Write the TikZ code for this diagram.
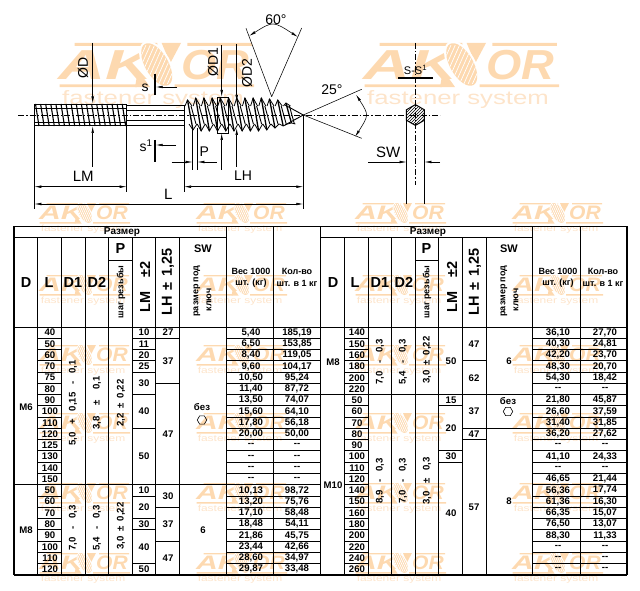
\documentclass[tikz,border=0pt]{standalone}
\usepackage{fontspec}
\setmainfont{Liberation Sans}
\usepackage{xcolor}
\usepackage{graphicx}
\usetikzlibrary{shapes.geometric, arrows.meta, patterns}
\definecolor{wmpeach}{RGB}{253,217,176}
\definecolor{wmlight}{RGB}{253,228,202}
\newcommand{\nodata}{-{}-}
\newcommand{\px}[1]{\fontsize{#1}{#1}\selectfont}

\tikzset{
    pics/aksor/.style={code={
        \fill[wmpeach] (10.5,0) rectangle (49,1.3) (63,0) rectangle (93,1.3);
        \fill[wmpeach] (3.5,19.2) rectangle (39.5,20.5) (57,19.2) rectangle (94,20.5);
        \node[wmword] (ak) at (25,10.2) {\scalebox{1.55}[1]{AK}};
        \node[wmword] (or) at (76,10.2) {\scalebox{1.08}[1]{OR}};
        \fill[wmpeach] (51,0) -- (60,0) -- (55,9.4) -- cycle;
        \fill[wmpeach] (38.6,20.5) -- (45.6,20.5) -- (40,12.6) -- cycle;
        \begin{scope}
            \fill[white, rotate around={30:(48.7,10)}] (48.7,10) ellipse [x radius=6.4, y radius=12];
            \fill[wmpeach, rotate around={30:(48.7,10)}] (48.7,10) ellipse [x radius=5.4, y radius=11];
            \clip[rotate around={30:(48.7,10)}] (48.7,10) ellipse [x radius=5.4, y radius=11];
            \foreach \t in {-9,-7,...,9}
                \draw[white, line width=0.7pt] (48.7+\t-4,19) -- (48.7+\t+4,1);
        \end{scope}
        \node[wmtail] (tail) at (47,26.5) {\scalebox{1.33}[1]{fastener system}};
    }},
}

\begin{document}
\begin{tikzpicture}[
    x=1pt, y=-1pt,
    declare function={rowy(\k)=327+11.27*\k;},
    wmword/.style={inner sep=0, transform shape, text=wmpeach, font=\px{19.5}\bfseries\itshape},
    wmtail/.style={inner sep=0, transform shape, text=wmlight, font=\px{9}},
    dim/.style={draw=black, line width=0.55pt},
    arrowline/.style={dim, -{Latex[length=7pt,width=2.6pt]}},
    twoway/.style={dim, {Latex[length=7pt,width=2.6pt]}-{Latex[length=7pt,width=2.6pt]}},
    axis/.style={draw=black, line width=0.7pt, dash pattern=on 6pt off 2pt on 1.5pt off 2pt},
    cutbar/.style={draw=black, line width=1.1pt},
    body/.style={draw=black, line width=0.9pt},
    label/.style={inner sep=0, font=\px{14}},
    cell/.style={inner sep=0, font=\px{9.6}\bfseries},
    head/.style={inner sep=0, font=\px{14.5}\bfseries},
    small/.style={inner sep=0, font=\px{9}\bfseries},
    turned/.style={rotate=90},
    rule/.style={draw=black, line width=1pt},
    hexmark/.style={regular polygon, regular polygon sides=6, draw=black, line width=0.6pt, minimum size=9.5pt, inner sep=0}
]
    \useasboundingbox (0,0) rectangle (640,591);

    % Watermarks
    \pic[scale=2.15] (wmbigA) at (52,43) {aksor};
    \pic[scale=2.15] (wmbigB) at (357,43) {aksor};
    \foreach \wx [count=\i] in {36,193,352,509}
        \foreach \wy [count=\j] in {203,275,345,413,483,553}
            \pic (wm\i\j) at (\wx,\wy) {aksor};

    % Left threaded end
    \foreach \k in {0,...,17}
        \draw[line width=1.1pt] (35.5+5.1*\k,104) -- (39+5.1*\k,126);
    \draw[body] (34.3,104.5) rectangle (126.7,125.5);
    \draw[line width=0.5pt] (34.3,108) -- (126.7,108) (34.3,122) -- (126.7,122);

    % Plain shank
    \draw[body] (126.7,105) -- (184,105) (126.7,110.5) -- (184,110.5);
    \draw[body] (126.7,120.5) -- (184,120.5) (126.7,125) -- (184,125);

    % Wood thread
    \foreach \k/\ytop/\ybot in {0/100/130,1/98/131,2/98/131,3/98/131,4/98/131,5/98/131,6/98/131,7/98/131,8/98/131,9/98/130,10/99/128,11/100/126,12/103/123}{
        \draw[line width=0.8pt] (185+8.2*\k,106) -- (187.5+8.2*\k,\ytop) -- (192+8.2*\k,106);
        \draw[line width=0.8pt] (189+8.2*\k,124) -- (193+8.2*\k,\ybot) -- (197+8.2*\k,124);
        \draw[line width=1.3pt] (187.5+8.2*\k,\ytop) -- (193+8.2*\k,\ybot);
        \draw[line width=0.9pt] (191+8.2*\k,106) -- (196+8.2*\k,124);
    }
    \draw[body] (184,105) -- (184,125);
    \draw[body] (285,105) -- (303.3,115) -- (285,125);
    \draw[line width=0.5pt] (217,97) rectangle (228,133);

    % Axis
    \draw[axis] (18,115) -- (440,115);

    % Diameter D
    \draw[arrowline] (92.7,43) -- (92.7,103.5);
    \draw[arrowline] (92.7,167) -- (92.7,126);
    \node[label, turned] (dlabel) at (83,68) {ØD};

    % Diameter D1
    \draw[arrowline] (221.7,45) -- (221.7,97);
    \draw[arrowline] (221.7,170) -- (221.7,133);
    \node[label, turned] (dilabel) at (213,62) {ØD1};

    % Diameter D2
    \draw[arrowline] (236.7,44) -- (236.7,102);
    \draw[arrowline] (236.7,167) -- (236.7,128);
    \node[label, turned] (diilabel) at (247,73) {ØD2};

    % Section marks
    \draw[cutbar] (155,74) -- (155,95);
    \draw[arrowline] (177,87) -- (155.7,87);
    \node[label] (slabel) at (145,88) {s};
    \draw[cutbar] (155,140) -- (155,162);
    \draw[arrowline] (176,145) -- (155.7,145);
    \node[label] (sonelabel) at (146,146) {s\textsuperscript{1}};

    % Pitch
    \draw[dim] (192.7,128) -- (192.7,170) (197.3,128) -- (197.3,170);
    \draw[arrowline] (171.7,162) -- (192.7,162);
    \draw[arrowline] (216.7,162) -- (197.3,162);
    \node[label] (plabel) at (204.3,151.5) {P};

    % Lengths
    \draw[dim] (34.3,126) -- (34.3,209);
    \draw[dim] (126.7,126) -- (126.7,192);
    \draw[dim] (184,125) -- (184,192);
    \draw[dim] (303.3,115) -- (303.3,209);
    \draw[twoway] (34.3,186.7) -- (126.7,186.7);
    \draw[twoway] (184,186.7) -- (303.3,186.7);
    \draw[twoway] (34.3,204) -- (303.3,204);
    \node[label, font=\px{15}] (lmlabel) at (83.3,176.7) {LM};
    \node[label] (lhlabel) at (243,175.5) {LH};
    \node[label, font=\px{15}] (llabel) at (168.3,194.5) {L};

    % Thread angle
    \draw[dim] (271.7,96.7) -- (246,28.3) (271.7,96.7) -- (301.7,28);
    \draw[twoway] (249,36) .. controls (273,21) .. (298,37);
    \node[label] (sixty) at (276,19.5) {60°};

    % Point angle
    \draw[dim] (303.3,115) -- (361.7,89.3) (303.3,115) -- (361.7,138.3);
    \draw[twoway] (356,94.5) .. controls (369,115) .. (355,137);
    \node[label] (twentyfive) at (332,90) {25°};

    % Section through the shank
    \draw[axis] (415.3,43) -- (415.3,185);
    \node[hexmark, line width=1pt, minimum size=20.8pt, regular polygon rotate=30, pattern=north east lines, pattern color=black] (hexcut) at (415.4,115) {};
    \draw[dim] (406.7,120) -- (406.7,203.5) (424.3,120) -- (424.3,203.5);
    \node[label, font=\px{11}] (cutname) at (415.5,70) {S-S\textsuperscript{1}};
    \draw[cutbar] (398,78) -- (432.7,78);
    \draw[arrowline] (368.3,162) -- (406.7,162);
    \draw[arrowline] (440,162) -- (424.3,162);
    \node[label, font=\px{15}] (swlabel) at (388.3,152) {SW};

    % Table frame
    \draw[line width=1.5pt] (14,226.5) -- (627,226.5);
    \draw[line width=2pt] (14,575) -- (627,575);
    \draw[line width=1.3pt] (14,226) -- (14,575) (627,226) -- (627,575) (320.5,226) -- (320.5,575);
    \draw[rule] (14,237) -- (226.7,237) (321,237) -- (532,237);
    \draw[rule] (14,327) -- (627,327) (14,{rowy(14)}) -- (320,{rowy(14)}) (321,{rowy(6)}) -- (627,{rowy(6)});
    \draw[rule] (108.7,260) -- (132,260) (415,260) -- (438,260);
    \foreach \cx in {37.5,61.5,85,108.7,132,155.5,179,344,368,391,415,438,462,486}
        \draw[rule] (\cx,237) -- (\cx,575);
    \foreach \cx in {226.7,273,532,580}
        \draw[rule] (\cx,226) -- (\cx,575);

    % Row rules
    \foreach \k in {1,...,21}
        \draw[rule] (37.5,{rowy(\k)}) -- (61.5,{rowy(\k)}) (226.7,{rowy(\k)}) -- (320,{rowy(\k)})
                    (344,{rowy(\k)}) -- (368,{rowy(\k)}) (532,{rowy(\k)}) -- (627,{rowy(\k)});
    \foreach \k in {1,2,3,4,6,9,15,17,18,21}
        \draw[rule] (132,{rowy(\k)}) -- (155.5,{rowy(\k)});
    \foreach \k in {1,5,16,19}
        \draw[rule] (155.5,{rowy(\k)}) -- (179,{rowy(\k)});
    \foreach \k in {7,11,12}
        \draw[rule] (438,{rowy(\k)}) -- (462,{rowy(\k)});
    \foreach \k in {3,10}
        \draw[rule] (462,{rowy(\k)}) -- (486,{rowy(\k)});
    \draw[rule] (462,{rowy(9)}) -- (532,{rowy(9)});

    % Left header
    \node[cell, font=\px{10}\bfseries] (sizeA) at (122,232) {Размер};
    \node[head] (hdA) at (26,282.5) {D};
    \node[head] (hlA) at (49,282.5) {L};
    \node[head] (hdiA) at (73,282.5) {D1};
    \node[head] (hdiiA) at (97,282.5) {D2};
    \node[head] (hpA) at (120.5,248.5) {P};
    \node[small, turned] (hpitchA) at (121,292) {шаг резьбы};
    \node[head, turned] (hlmA) at (145,287) {LM\hspace{1em}±2};
    \node[head, turned] (hlhA) at (168,282) {LH\hspace{0.4em}±\hspace{0.4em}1,25};
    \node[cell, font=\px{11}\bfseries] (hswA) at (203,249) {SW};
    \node[small, turned] (hkeyA) at (197,291) {размер под};
    \node[small, turned] (hkeybA) at (209,300) {ключ};
    \node[small] (hwtA) at (251,271) {Вес 1000};
    \node[small] (hwtbA) at (251,283) {шт. (кг)};
    \node[small] (hqtA) at (297,271) {Кол-во};
    \node[small] (hqtbA) at (297,283) {шт. в 1 кг};

    % Right header
    \node[cell, font=\px{10}\bfseries] (sizeB) at (428,232) {Размер};
    \node[head] (hdB) at (333,282.5) {D};
    \node[head] (hlB) at (355,282.5) {L};
    \node[head] (hdiB) at (380,282.5) {D1};
    \node[head] (hdiiB) at (404,282.5) {D2};
    \node[head] (hpB) at (426.5,248.5) {P};
    \node[small, turned] (hpitchB) at (427,292) {шаг резьбы};
    \node[head, turned] (hlmB) at (452,287) {LM\hspace{1em}±2};
    \node[head, turned] (hlhB) at (475,282) {LH\hspace{0.4em}±\hspace{0.4em}1,25};
    \node[cell, font=\px{11}\bfseries] (hswB) at (509,249) {SW};
    \node[small, turned] (hkeyB) at (504,291) {размер под};
    \node[small, turned] (hkeybB) at (516,300) {ключ};
    \node[small] (hwtB) at (558,271) {Вес 1000};
    \node[small] (hwtbB) at (558,283) {шт. (кг)};
    \node[small] (hqtB) at (603,271) {Кол-во};
    \node[small] (hqtbB) at (603,283) {шт. в 1 кг};

    % Left rows
    \foreach \len/\wt/\qty [count=\k from 0] in {40/{5,40}/{185,19},50/{6,50}/{153,85},60/{8,40}/{119,05},70/{9,60}/{104,17},75/{10,50}/{95,24},80/{11,40}/{87,72},90/{13,50}/{74,07},100/{15,60}/{64,10},110/{17,80}/{56,18},120/{20,00}/{50,00},125/\nodata/\nodata,130/\nodata/\nodata,140/\nodata/\nodata,150/\nodata/\nodata,50/{10,13}/{98,72},60/{13,20}/{75,76},70/{17,10}/{58,48},80/{18,48}/{54,11},90/{21,86}/{45,75},100/{23,44}/{42,66},110/{28,60}/{34,97},120/{29,87}/{33,48}}{
        \node[cell] (lenA\k) at (50,{rowy(\k+0.5)}) {\len};
        \node[cell] (wtA\k) at (251,{rowy(\k+0.5)}) {\wt};
        \node[cell] (qtyA\k) at (297,{rowy(\k+0.5)}) {\qty};
    }

    % Right rows
    \foreach \len/\wt/\qty [count=\k from 0] in {140/{36,10}/{27,70},150/{40,30}/{24,81},160/{42,20}/{23,70},180/{48,30}/{20,70},200/{54,30}/{18,42},220/\nodata/\nodata,50/{21,80}/{45,87},60/{26,60}/{37,59},70/{31,40}/{31,85},80/{36,20}/{27,62},90/\nodata/\nodata,100/{41,10}/{24,33},110/\nodata/\nodata,120/{46,65}/{21,44},140/{56,36}/{17,74},150/{61,36}/{16,30},160/{66,35}/{15,07},180/{76,50}/{13,07},200/{88,30}/{11,33},220/\nodata/\nodata,240/\nodata/\nodata,260/\nodata/\nodata}{
        \node[cell] (lenB\k) at (357,{rowy(\k+0.5)}) {\len};
        \node[cell] (wtB\k) at (558,{rowy(\k+0.5)}) {\wt};
        \node[cell] (qtyB\k) at (605,{rowy(\k+0.5)}) {\qty};
    }

    % LM and LH spans, left
    \foreach \val/\mid [count=\n] in {10/0.5,11/1.5,20/2.5,25/3.5,30/5,40/7.5,50/11.5,10/14.5,20/16,30/17.5,40/19.5,50/21.5}
        \node[cell] (lmA\n) at (144,{rowy(\mid)}) {\val};
    \foreach \val/\mid [count=\n] in {27/0.5,37/3,47/9.5,30/15,37/17.5,47/20.5}
        \node[cell] (lhA\n) at (168,{rowy(\mid)}) {\val};

    % LM and LH spans, right
    \foreach \val/\mid [count=\n] in {50/3,15/6.5,20/9,30/11.5,40/16.5}
        \node[cell] (lmB\n) at (451,{rowy(\mid)}) {\val};
    \foreach \val/\mid [count=\n] in {47/1.5,62/4.5,37/7.5,47/9.5,57/16}
        \node[cell] (lhB\n) at (474,{rowy(\mid)}) {\val};

    % Diameters and bolts, left
    \node[cell] (mA) at (26,407) {M6};
    \node[cell] (mbA) at (26,530) {M8};
    \node[cell, turned] (tdiA) at (73,403) {5,0\hspace{0.8em}+\hspace{0.8em}0,15\hspace{0.8em}-\hspace{0.8em}0,1};
    \node[cell, turned] (tdiiA) at (97,403) {3,8\hspace{1.1em}±\hspace{1.1em}0,1};
    \node[cell, turned] (tpA) at (121,403) {2,2\hspace{0.5em}±\hspace{0.5em}0,22};
    \node[cell, turned] (tdibA) at (73,528) {7,0\hspace{0.8em}-\hspace{0.8em}0,3};
    \node[cell, turned] (tdiibA) at (97,528) {5,4\hspace{0.8em}-\hspace{0.8em}0,3};
    \node[cell, turned] (tpbA) at (121,526) {3,0\hspace{0.5em}±\hspace{0.5em}0,22};
    \node[cell] (noneA) at (202,407) {без};
    \node[hexmark] (hexA) at (202,420) {};
    \node[cell] (swA) at (203,530) {6};

    % Diameters and bolts, right
    \node[cell] (mB) at (333,362) {M8};
    \node[cell] (mbB) at (333,485) {M10};
    \node[cell, turned] (tdiB) at (380,362) {7,0\hspace{0.8em}-\hspace{0.8em}0,3};
    \node[cell, turned] (tdiiB) at (403,362) {5,4\hspace{0.8em}-\hspace{0.8em}0,3};
    \node[cell, turned] (tpB) at (427,360) {3,0\hspace{0.5em}±\hspace{0.5em}0,22};
    \node[cell, turned] (tdibB) at (380,481) {8,9\hspace{0.8em}-\hspace{0.8em}0,3};
    \node[cell, turned] (tdiibB) at (403,481) {7,0\hspace{0.8em}-\hspace{0.8em}0,3};
    \node[cell, turned] (tpbB) at (427,481) {3,0\hspace{0.8em}±\hspace{0.8em}0,3};
    \node[cell] (swB) at (509,361) {6};
    \node[cell] (noneB) at (508,401.5) {без};
    \node[hexmark] (hexB) at (508,411.5) {};
    \node[cell] (swbB) at (509,501.5) {8};
\end{tikzpicture}
\end{document}
